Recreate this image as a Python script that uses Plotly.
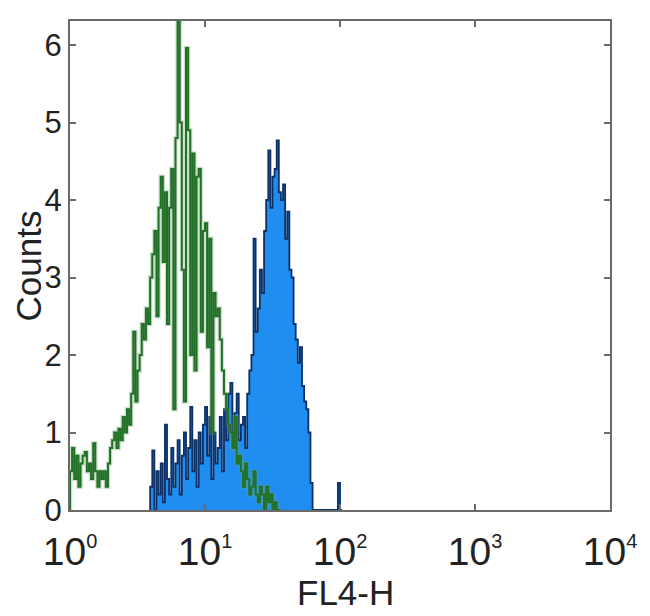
import plotly.graph_objects as go

# Histogram channels: 64 channels per decade on a log axis (10^0 .. 10^4)
CH_PER_DECADE = 64

# Isotype control (green outline) counts, starting at channel 0
green_start = 0
green_counts = [
    0.5, 0.8, 0.4, 0.7, 0.3, 0.6, 0.7, 0.75, 0.5, 0.6,
    0.4, 0.86, 0.5, 0.3, 0.5, 0.4, 0.5, 0.3, 0.6, 0.8,
    0.9, 1.0, 0.8, 1.05, 0.9, 1.2, 1.0, 1.3, 1.1, 1.5,
    2.3, 1.4, 1.8, 2.0, 2.4, 2.2, 2.6, 2.4, 3.0, 3.3,
    3.6, 2.5, 3.9, 4.3, 3.2, 4.1, 2.4, 3.9, 4.4, 1.3,
    4.8, 6.3, 5.0, 3.1, 1.4, 5.96, 4.9, 2.0, 4.6, 1.8,
    4.3, 4.4, 2.3, 3.6, 3.7, 2.1, 3.5, 1.0, 2.8, 2.5,
    2.6, 2.2, 1.8, 1.5, 1.3, 1.1, 1.0, 0.8, 1.2, 0.6,
    0.7, 0.5, 0.3, 0.6, 0.4, 0.2, 0.3, 0.5, 0.2, 0.1,
    0.3, 0.2, 0.0, 0.3, 0.1, 0.2, 0.0, 0.1, 0.0, 0.0,
]

# Stained sample (blue filled) counts, starting at channel 38
blue_start = 38
blue_counts = [
    0.3, 0.77, 0.0, 0.5, 0.2, 0.6, 0.1, 1.1, 0.4, 0.2,
    0.8, 0.3, 0.6, 0.9, 0.2, 0.7, 1.0, 0.4, 0.8, 1.33,
    0.5, 0.9, 0.3, 1.0, 0.6, 1.1, 1.33, 0.7, 1.2, 0.4,
    1.0, 0.6, 0.8, 1.2, 0.5, 1.3, 0.9, 1.5, 1.64, 1.0,
    1.25, 1.5, 0.9, 1.1, 1.2, 0.8, 1.5, 1.8, 2.0, 3.5,
    2.3, 2.6, 3.1, 2.8, 3.6, 4.0, 4.64, 3.9, 4.3, 4.4,
    4.77, 4.1, 4.0, 4.2, 3.5, 3.85, 3.1, 3.0, 2.4, 2.2,
    1.9, 2.1, 1.6, 1.4, 1.3, 1.0, 0.35, 0.0, 0.0, 0.0,
    0.0, 0.0, 0.0, 0.0, 0.0, 0.0, 0.0, 0.0, 0.0, 0.35,
    0.0,
]

x_tick_vals = [1, 10, 100, 1000, 10000]
x_tick_exps = ["0", "1", "2", "3", "4"]
y_tick_vals = [0, 1, 2, 3, 4, 5, 6]


def step_xy(start, counts):
    edges = [10 ** ((start + i) / CH_PER_DECADE) for i in range(len(counts) + 1)]
    xs = [edges[0]] + edges[:-1] + [edges[-1], edges[-1]]
    ys = [0] + list(counts) + [counts[-1], 0]
    return xs, ys


bx, by = step_xy(blue_start, blue_counts)
gx, gy = step_xy(green_start, green_counts)

fig = go.Figure()
fig.add_trace(go.Scatter(
    x=bx, y=by, mode="lines", line=dict(shape="hv", color="#0c2f66", width=1.8),
    fill="tozeroy", fillcolor="#1f8ef0", hoverinfo="skip", showlegend=False,
))
# soft halo under the green outline (the reference is blurred)
fig.add_trace(go.Scatter(
    x=gx, y=gy, mode="lines", line=dict(shape="hv", color="rgba(110,170,110,0.35)", width=4.5),
    hoverinfo="skip", showlegend=False,
))
fig.add_trace(go.Scatter(
    x=gx, y=gy, mode="lines", line=dict(shape="hv", color="#226f28", width=2.0),
    hoverinfo="skip", showlegend=False,
))

font_family = "Liberation Sans, Arial, sans-serif"
axis_common = dict(
    showline=True, linecolor="#6a6a6a", linewidth=2, mirror="ticks",
    ticks="inside", ticklen=6, tickwidth=2, tickcolor="#6a6a6a",
    showgrid=False, zeroline=False,
)

fig.update_xaxes(
    type="log", range=[0, 4],
    tickvals=x_tick_vals,
    ticktext=["10<sup><span style='font-size:20px'>%s</span></sup>" % e for e in x_tick_exps],
    tickfont=dict(family=font_family, size=39, color="#222"),
    ticklabelstandoff=6,
    **axis_common,
)
fig.update_yaxes(
    range=[0, 6.31],
    tickvals=y_tick_vals,
    tickfont=dict(family=font_family, size=31, color="#222"),
    ticklabelstandoff=0,
    **axis_common,
)

fig.add_annotation(
    text="FL4-H", xref="paper", yref="paper", x=0.51, y=-0.168,
    xanchor="center", yanchor="middle", showarrow=False,
    font=dict(family=font_family, size=35, color="#222"),
)
fig.add_annotation(
    text="Counts", xref="paper", yref="paper", x=-0.076, y=0.5,
    xanchor="center", yanchor="middle", showarrow=False, textangle=-90,
    font=dict(family=font_family, size=35, color="#222"),
)

# The page body adds an 8px offset, so the figure is sized to fit the window.
fig.update_layout(
    width=642, height=608,
    margin=dict(l=62, r=40, t=11, b=106),
    paper_bgcolor="white", plot_bgcolor="white",
)

fig.write_html("out.html")
